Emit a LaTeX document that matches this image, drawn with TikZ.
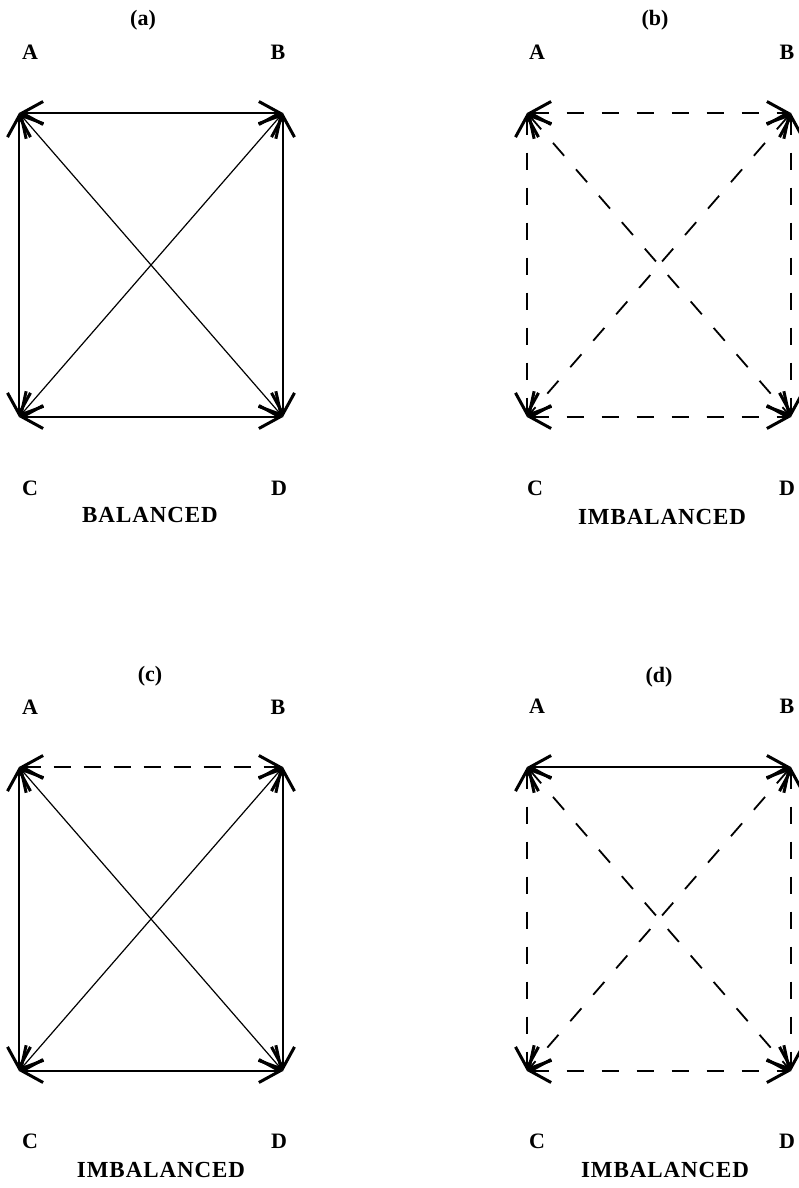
\documentclass[tikz,border=0pt]{standalone}
\usepackage{fontspec}
\setmainfont{Liberation Serif}
\usetikzlibrary{arrows.meta}

\begin{document}
\begin{tikzpicture}[
    x=1pt, y=-1pt,
    >={Straight Barb[length=21pt, width=23pt, line width=3pt]},
    thinln/.style={<->, line width=1.2pt},
    dashln/.style={<->, line width=1.8pt, dash pattern=on 17pt off 18pt},
    heavydash/.style={<->, line width=2.8pt, dash pattern=on 17pt off 13pt},
    heavyln/.style={<->, line width=2.6pt},
    lbl/.style={font=\fontsize{22}{26}\selectfont\bfseries, inner sep=0pt},
    capt/.style={font=\fontsize{23}{27}\selectfont\bfseries\addfontfeatures{LetterSpace=4}, inner sep=0pt}
]
\useasboundingbox (0,0) rectangle (799,1188);

% (a) balanced
\coordinate (aA) at (19,113);  \coordinate (aB) at (283,113);
\coordinate (aC) at (19,417);  \coordinate (aD) at (283,417);
\node[lbl] (aTag) at (143,20) {(a)};
\node[lbl] (aLa) at (30,52)  {A};
\node[lbl] (aLb) at (278,52) {B};
\node[lbl] (aLc) at (30,488) {C};
\node[lbl] (aLd) at (279,488) {D};
\node[capt] (aCap) at (150,515) {BALANCED};
\draw[thinln] (aA) -- (aB);
\draw[thinln] (aC) -- (aD);
\draw[thinln] (aA) -- (aC);
\draw[thinln] (aB) -- (aD);
\draw[thinln] (aA) -- (aD);
\draw[thinln] (aB) -- (aC);

% (b) all dashed
\coordinate (bA) at (527,113); \coordinate (bB) at (791,113);
\coordinate (bC) at (527,417); \coordinate (bD) at (791,417);
\node[lbl] (bTag) at (655,20) {(b)};
\node[lbl] (bLa) at (537,52)  {A};
\node[lbl] (bLb) at (787,52)  {B};
\node[lbl] (bLc) at (535,488) {C};
\node[lbl] (bLd) at (787,488) {D};
\node[capt] (bCap) at (662,517) {IMBALANCED};
\draw[dashln] (bA) -- (bB);
\draw[dashln] (bC) -- (bD);
\draw[dashln] (bA) -- (bC);
\draw[dashln] (bB) -- (bD);
\draw[dashln] (bA) -- (bD);
\draw[dashln] (bB) -- (bC);

% (c) dashed top edge
\coordinate (cA) at (19,767);  \coordinate (cB) at (283,767);
\coordinate (cC) at (19,1071); \coordinate (cD) at (283,1071);
\node[lbl] (cTag) at (150,676) {(c)};
\node[lbl] (cLa) at (30,707)   {A};
\node[lbl] (cLb) at (278,707)  {B};
\node[lbl] (cLc) at (30,1141)  {C};
\node[lbl] (cLd) at (279,1141) {D};
\node[capt] (cCap) at (161,1170) {IMBALANCED};
\draw[heavydash] (cA) -- (cB);
\draw[thinln] (cC) -- (cD);
\draw[thinln] (cA) -- (cC);
\draw[thinln] (cB) -- (cD);
\draw[thinln] (cA) -- (cD);
\draw[thinln] (cB) -- (cC);

% (d) solid top edge
\coordinate (dA) at (527,767); \coordinate (dB) at (791,767);
\coordinate (dC) at (527,1071); \coordinate (dD) at (791,1071);
\node[lbl] (dTag) at (659,677) {(d)};
\node[lbl] (dLa) at (537,706)  {A};
\node[lbl] (dLb) at (787,706)  {B};
\node[lbl] (dLc) at (537,1141) {C};
\node[lbl] (dLd) at (787,1141) {D};
\node[capt] (dCap) at (665,1170) {IMBALANCED};
\draw[heavyln] (dA) -- (dB);
\draw[dashln] (dC) -- (dD);
\draw[dashln] (dA) -- (dC);
\draw[dashln] (dB) -- (dD);
\draw[dashln] (dA) -- (dD);
\draw[dashln] (dB) -- (dC);

\end{tikzpicture}
\end{document}
